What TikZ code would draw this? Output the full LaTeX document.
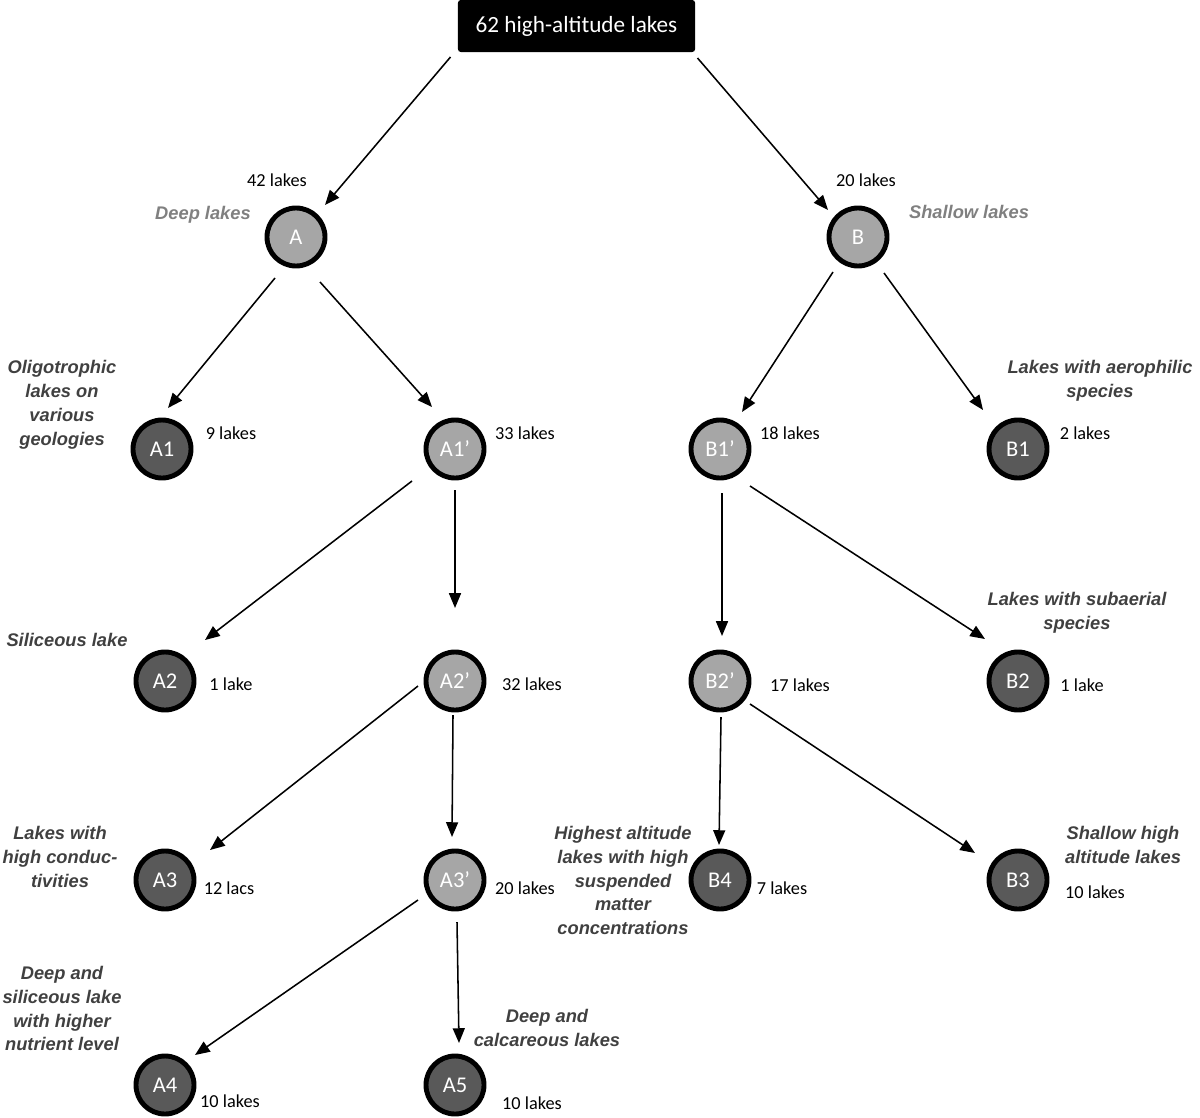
\documentclass[tikz,border=0pt]{standalone}
\usepackage{fontspec}
\setmainfont{Carlito}
\newfontfamily\arialfont{Liberation Sans}
\usetikzlibrary{arrows.meta}
\definecolor{lightnode}{HTML}{A6A6A6}
\definecolor{darknode}{HTML}{595959}
\definecolor{labgray}{HTML}{404040}
\definecolor{grouplab}{HTML}{808080}
\begin{document}
\begin{tikzpicture}[x=0.025cm,y=-0.025cm,
  lake/.style={circle,draw=black,line width=3.5pt,minimum size=1.45cm,inner sep=0pt,text=white,font=\fontsize{16}{18}\selectfont},
  lightlake/.style={lake,fill=lightnode},
  darklake/.style={lake,fill=darknode},
  count/.style={font=\fontsize{13}{15}\selectfont,inner sep=0pt},
  desc/.style={font=\arialfont\bfseries\itshape\fontsize{13}{17}\selectfont,text=labgray,align=center,inner sep=0pt},
  grp/.style={desc,text=grouplab},
  arr/.style={-{Triangle[length=10.5pt,width=8.5pt]},line width=1.1pt}]
\useasboundingbox (0,0) rectangle (1200,1117);
\node[fill=black,text=white,rounded corners=2pt,minimum width=5.925cm,minimum height=1.3cm,font=\fontsize{16.5}{20}\selectfont] (top) at (576.5,26) {62 high-altitude lakes};

\node[lightlake] (A) at (296,237) {A};
\node[lightlake] (B) at (858,237) {B};
\node[darklake] (A1) at (162,449) {A1};
\node[lightlake] (A1p) at (455,449) {A1’};
\node[lightlake] (B1p) at (720,449) {B1’};
\node[darklake] (B1) at (1018,449) {B1};
\node[darklake] (A2) at (165,681) {A2};
\node[lightlake] (A2p) at (455,681) {A2’};
\node[lightlake] (B2p) at (720,681) {B2’};
\node[darklake] (B2) at (1018,681) {B2};
\node[darklake] (A3) at (165,880) {A3};
\node[lightlake] (A3p) at (455,880) {A3’};
\node[darklake] (B4) at (720,880) {B4};
\node[darklake] (B3) at (1018,880) {B3};
\node[darklake] (A4) at (165,1085) {A4};
\node[darklake] (A5) at (455,1085) {A5};

\draw[arr] ([shift={(-126,31)}]top.center) -- ([shift={(29,-32)}]A.center);
\draw[arr] ([shift={(121,32)}]top.center) -- ([shift={(-30,-27)}]B.center);
\draw[arr] ([shift={(-21,41)}]A.center) -- ([shift={(6,-41)}]A1.center);
\draw[arr] ([shift={(24,45)}]A.center) -- ([shift={(-23,-42)}]A1p.center);
\draw[arr] ([shift={(-25,35)}]B.center) -- ([shift={(22,-37)}]B1p.center);
\draw[arr] ([shift={(26,36)}]B.center) -- ([shift={(-35,-39)}]B1.center);
\draw[arr] ([shift={(-43,32)}]A1p.center) -- ([shift={(40,-41)}]A2.center);
\draw[arr] ([shift={(0,41)}]A1p.center) -- ([shift={(0,-73)}]A2p.center);
\draw[arr] ([shift={(2,44)}]B1p.center) -- ([shift={(2,-45)}]B2p.center);
\draw[arr] ([shift={(30,37)}]B1p.center) -- ([shift={(-33,-42)}]B2.center);
\draw[arr] ([shift={(-37,5)}]A2p.center) -- ([shift={(45,-30)}]A3.center);
\draw[arr] ([shift={(-2,34)}]A2p.center) -- ([shift={(-3,-43)}]A3p.center);
\draw[arr] ([shift={(1,36)}]B2p.center) -- ([shift={(-1,-35)}]B4.center);
\draw[arr] ([shift={(30,23)}]B2p.center) -- ([shift={(-43,-27)}]B3.center);
\draw[arr] ([shift={(-37,20)}]A3p.center) -- ([shift={(30,-30)}]A4.center);
\draw[arr] ([shift={(2,42)}]A3p.center) -- ([shift={(4,-42)}]A5.center);

\node[count] (cA) at (277,180) {42 lakes};
\node[count] (cB) at (866,180) {20 lakes};
\node[count] (cA1) at (231,433) {9 lakes};
\node[count] (cA1p) at (525,433) {33 lakes};
\node[count] (cB1p) at (790,433) {18 lakes};
\node[count] (cB1) at (1085,433) {2 lakes};
\node[count] (cA2) at (231,684) {1 lake};
\node[count] (cA2p) at (532,684) {32 lakes};
\node[count] (cB2p) at (800,685) {17 lakes};
\node[count] (cB2) at (1082,685) {1 lake};
\node[count] (cA3) at (229,888) {12 lacs};
\node[count] (cA3p) at (525,888) {20 lakes};
\node[count] (cB4) at (782,888) {7 lakes};
\node[count] (cB3) at (1095,892) {10 lakes};
\node[count] (cA4) at (230,1101) {10 lakes};
\node[count] (cA5) at (532,1103) {10 lakes};

\node[grp] (lA) at (203,215) {Deep lakes};
\node[grp] (lB) at (969,212) {Shallow lakes};
\node[desc] (lA1) at (62,404.5) {Oligotrophic\\lakes on\\various\\geologies};
\node[desc] (lB1) at (1100,381) {Lakes with aerophilic\\species};
\node[desc] (lA2) at (67,640) {Siliceous lake};
\node[desc] (lB2) at (1077,613) {Lakes with subaerial\\species};
\node[desc] (lA3) at (60,857) {Lakes with\\high conduc-\\tivities};
\node[desc] (lB4) at (623,880.5) {Highest altitude\\lakes with high\\suspended\\matter\\concentrations};
\node[desc] (lB3) at (1123,845) {Shallow high\\altitude lakes};
\node[desc] (lA4) at (62,1008.5) {Deep and\\siliceous lake\\with higher\\nutrient level};
\node[desc] (lA5) at (547,1028) {Deep and\\calcareous lakes};
\end{tikzpicture}
\end{document}
